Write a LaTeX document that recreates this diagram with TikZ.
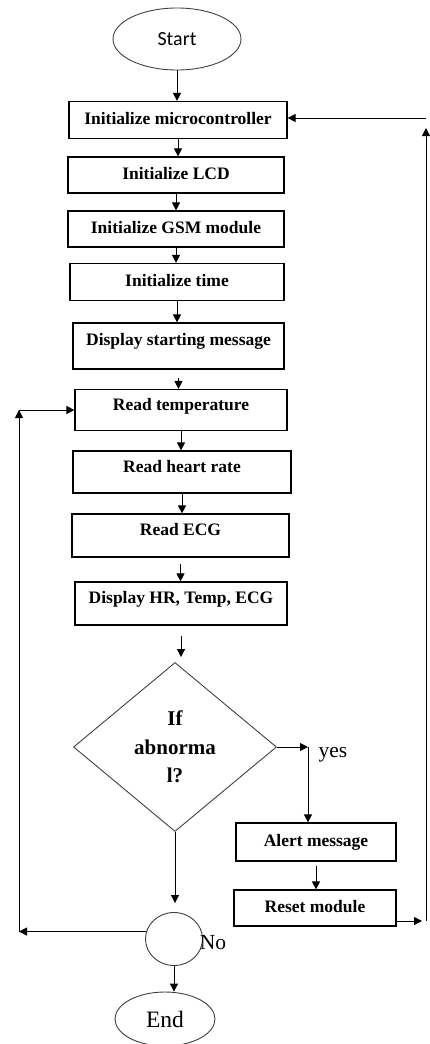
\documentclass[tikz,border=0pt]{standalone}
\usepackage{fontspec}
\setmainfont{Liberation Serif}
\newfontfamily\startfont{Carlito}
\usetikzlibrary{shapes.geometric,arrows.meta}
\begin{document}
\begin{tikzpicture}[x=1pt,y=-1pt,
 box/.style={draw=black,line width=1.2pt,rectangle,inner sep=0pt,font=\bfseries\fontsize{17.5}{19}\selectfont,text height=12pt,text depth=3.5pt},
 lowbox/.style={box,text depth=11.5pt},
 term/.style={draw=black!75,line width=0.9pt,ellipse,inner sep=0pt},
 arr/.style={draw=black,line width=1pt,-{Triangle[length=8pt,width=8pt]}},
 lbl/.style={font=\fontsize{21.5}{24}\selectfont,inner sep=0pt}]
\useasboundingbox (0,0) rectangle (429,1044);
% nodes
\node[term,minimum width=128pt,minimum height=62pt,font=\startfont\fontsize{20}{22}\selectfont] (start) at (177,39) {Start};
\node[box,minimum width=218pt,minimum height=37pt] (micro) at (178,120) {Initialize microcontroller};
\node[box,minimum width=216pt,minimum height=36pt] (lcd) at (176,175) {Initialize LCD};
\node[box,minimum width=216pt,minimum height=36pt] (gsm) at (176,229) {Initialize GSM module};
\node[box,minimum width=214pt,minimum height=37pt] (time) at (177,282) {Initialize time};
\node[lowbox,text depth=12.5pt,minimum width=211pt,minimum height=46pt] (disp) at (178.5,346) {Display starting message};
\node[lowbox,minimum width=212pt,minimum height=41pt] (temp) at (181,410) {Read temperature};
\node[lowbox,minimum width=218pt,minimum height=42pt] (hr) at (182,472) {Read heart rate};
\node[lowbox,minimum width=217pt,minimum height=43pt] (ecg) at (180.5,535.5) {Read ECG};
\node[lowbox,minimum width=212pt,minimum height=43pt] (dhr) at (181,603.5) {Display HR, Temp, ECG};
\node[diamond,draw=black!75,line width=0.9pt,minimum width=203pt,minimum height=169pt,inner sep=0pt] (dec) at (175,747) {};
\node[font=\bfseries\fontsize{21}{28.5}\selectfont,align=center,inner sep=0pt] (dectxt) at (175,747) {If\\abnorma\\l?};
\node[box,minimum width=160pt,minimum height=38pt] (alert) at (316,842) {Alert message};
\node[box,minimum width=162pt,minimum height=36pt] (reset) at (315,908) {Reset module};
\node[term,minimum width=57pt,minimum height=53pt] (join) at (174,939) {};
\node[term,minimum width=100pt,minimum height=54pt,font=\fontsize{23.5}{26}\selectfont] (end) at (165,1019) {End};
\node[lbl] (yes) at (333,755) {yes};
\node[lbl] (no) at (213,943) {No};
% coordinates
\coordinate (yc) at (308,747);
\coordinate (lc) at (19,932);
\coordinate (rb) at (426,921);
\coordinate (rt) at (426,128);
\coordinate (rh) at (426,118);
% main flow
\draw[arr] (start.south) -- (start.south |- micro.north);
\draw[arr] (micro.south) -- (micro.south |- lcd.north);
\draw[arr] (lcd.south) -- (lcd.south |- gsm.north);
\draw[arr] (gsm.south) -- (gsm.south |- time.north);
\draw[arr] (time.south) -- (time.south |- disp.north);
\draw[arr] ([yshift=-8pt]disp.south) -- (disp.south |- temp.north);
\draw[arr] (temp.south) -- (temp.south |- hr.north);
\draw[arr] (hr.south) -- (hr.south |- ecg.north);
\draw[arr] ([yshift=-6pt]ecg.south) -- (ecg.south |- dhr.north);
\draw[arr,shorten >=5pt] ([yshift=-10pt]dhr.south) -- (dhr.south |- dec.north);
\draw[arr,shorten >=9pt] (dec.south) -- (dec.south |- join.north);
\draw[arr] (join.south) -- (join.south |- end.north);
% yes branch
\draw[arr] (dec.east) -- (yc);
\draw[arr] (yc) -- (yc |- alert.north);
\draw[arr] ([yshift=-4pt]alert.south) -- (alert.south |- reset.north);
\draw[arr] (reset.east |- rb) -- ([xshift=-4pt]rb);
\draw[arr] (rb) -- (rt);
\draw[arr] (rh) -- (micro.east |- rh);
% no loop
\draw[arr] (join.165) -- (join.165 -| lc);
\draw[arr] (lc) -- (lc |- temp.west);
\draw[arr] (lc |- temp.west) -- (temp.west);
\end{tikzpicture}
\end{document}
